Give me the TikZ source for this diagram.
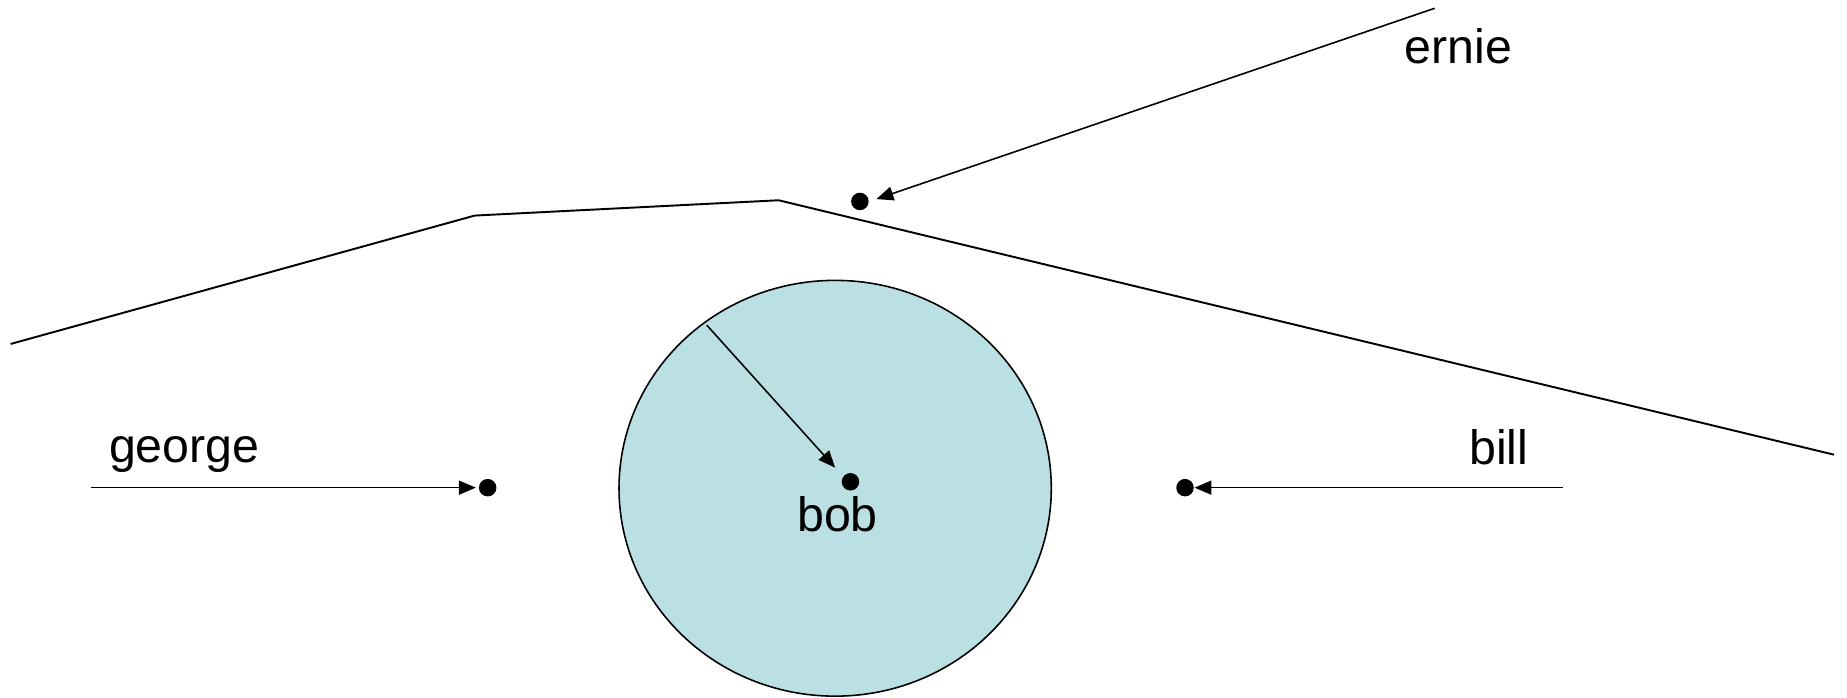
\documentclass[tikz,border=0pt]{standalone}
\usepackage{fontspec}
\setmainfont{Liberation Sans}
\usetikzlibrary{arrows.meta,shapes.geometric}
\definecolor{diskfill}{RGB}{186,224,227}
\begin{document}
\begin{tikzpicture}[x=0.023559cm,y=-0.023559cm,
  every node/.style={inner sep=0pt,outer sep=0pt},
  lbl/.style={font=\fontsize{27.5}{32}\selectfont,anchor=base},
  pt/.style={circle,fill=black,minimum size=0.35cm},
  conn/.style={line width=0.9pt,-{Triangle[length=0.34cm,width=0.28cm]}},
  ridge/.style={line width=1.1pt,line join=miter}]
\useasboundingbox (0,0) rectangle (1568,592);
% shaded disk
\node[ellipse,draw,line width=0.9pt,fill=diskfill,minimum width=8.646cm,minimum height=8.316cm] (disk) at (709,414.5) {};
% ridge line
\coordinate (r0) at (9,292);
\coordinate (r1) at (403,183);
\coordinate (r2) at (661,170);
\coordinate (r3) at (1557,386);
\draw[ridge] (r0) -- (r1) -- (r2) -- (r3);
% points
\node[pt] (pe) at (730,171) {};
\node[pt] (pb) at (722,409) {};
\node[pt] (pg) at (414,414) {};
\node[pt] (pr) at (1006,414) {};
% labels
\node[lbl] (ernie) at (1238,54) {ernie};
\node[lbl] (george) at (156.5,393) {george};
\node[lbl] (bill) at (1272.5,394) {bill};
\node[lbl] (bob) at (711,451) {bob};
% arrow tails and tips
\coordinate (te) at (1218,7);
\coordinate (tg) at (77,414);
\coordinate (tr) at (1327,414);
\coordinate (td) at (600,276);
\coordinate (he) at (744,169);
\coordinate (hg) at (404,414);
\coordinate (hr) at (1014,414);
\coordinate (hd) at (709,397);
\draw[conn] (te) -- (he);
\draw[conn] (tg) -- (hg);
\draw[conn] (tr) -- (hr);
\draw[conn] (td) -- (hd);
\end{tikzpicture}
\end{document}
